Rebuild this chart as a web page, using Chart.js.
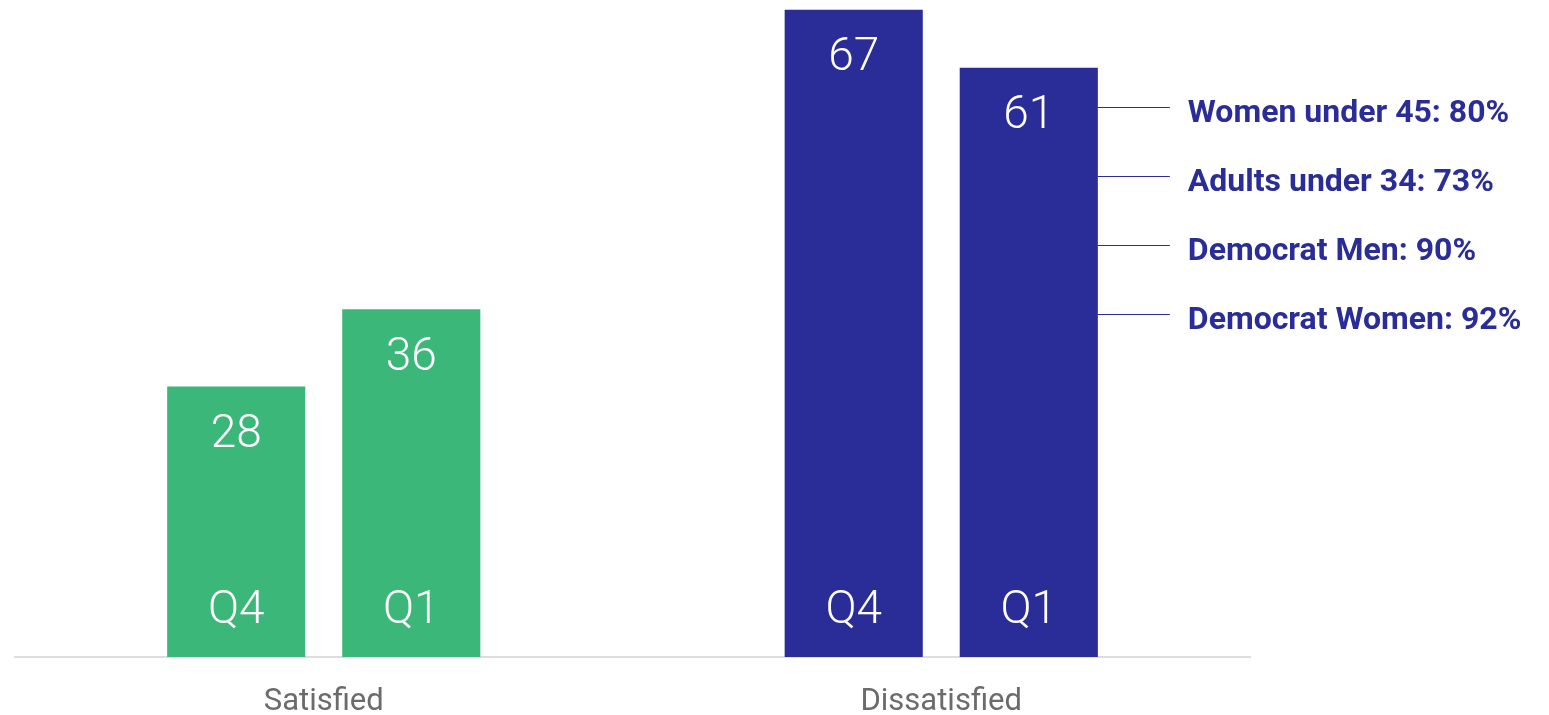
<!DOCTYPE html>
<html>
<head>
<meta charset="utf-8">
<script src="https://cdn.jsdelivr.net/npm/chart.js@4.4.1/dist/chart.umd.min.js"></script>
<style>
  html, body { margin: 0; padding: 0; background: #ffffff; }
  #wrap { width: 1549px; height: 715px; position: relative; }
</style>
</head>
<body>
<div id="wrap"><canvas id="c" width="1549" height="715"></canvas></div>
<script>
const categories = ['Satisfied', 'Dissatisfied'];
const seriesLabels = ['Q4', 'Q1'];
const q4Values = [28, 67];
const q1Values = [36, 61];
const categoryColors = ['#3BB77A', '#2A2D98'];
const yMax = 68;
const calloutTexts = [
  'Women under 45: 80%',
  'Adults under 34: 73%',
  'Democrat Men: 90%',
  'Democrat Women: 92%'
];

const FONT = 'Roboto, "Noto Sans", sans-serif';

const barLabelPlugin = {
  id: 'barLabels',
  afterDatasetsDraw(chart) {
    const ctx = chart.ctx;
    const area = chart.chartArea;
    ctx.save();
    ctx.fillStyle = '#ffffff';
    ctx.textAlign = 'center';
    ctx.textBaseline = 'middle';
    ctx.font = '300 46px ' + FONT;
    chart.data.datasets.forEach((ds, di) => {
      const meta = chart.getDatasetMeta(di);
      meta.data.forEach((bar, i) => {
        ctx.fillText(String(ds.data[i]), bar.x, bar.y + 49);
        ctx.fillText(ds.label, bar.x, area.bottom - 46);
      });
    });
    ctx.restore();
  }
};

const calloutPlugin = {
  id: 'callouts',
  afterDatasetsDraw(chart) {
    const ctx = chart.ctx;
    const meta = chart.getDatasetMeta(1);
    const bar = meta.data[1];
    const x0 = bar.x + bar.width / 2;
    ctx.save();
    ctx.strokeStyle = '#2A2D98';
    ctx.lineWidth = 1;
    ctx.fillStyle = '#2A2D98';
    ctx.font = 'bold 32px ' + FONT;
    ctx.textAlign = 'left';
    ctx.textBaseline = 'middle';
    calloutTexts.forEach((t, i) => {
      const y = Math.round(bar.y + 39 + i * 69) + 0.5;
      ctx.beginPath();
      ctx.moveTo(x0, y);
      ctx.lineTo(x0 + 72, y);
      ctx.stroke();
      ctx.fillText(t, x0 + 90, y + 6);
    });
    ctx.restore();
  }
};

new Chart(document.getElementById('c'), {
  type: 'bar',
  data: {
    labels: categories,
    datasets: [
      { label: seriesLabels[0], data: q4Values, backgroundColor: categoryColors },
      { label: seriesLabels[1], data: q1Values, backgroundColor: categoryColors }
    ]
  },
  options: {
    responsive: false,
    animation: false,
    devicePixelRatio: 1,
    categoryPercentage: 0.567,
    barPercentage: 0.789,
    layout: { padding: { left: 15, right: 299, top: 0, bottom: 0 } },
    plugins: { legend: { display: false }, tooltip: { enabled: false } },
    scales: {
      x: {
        afterFit(scale) { scale.height = 58; },
        grid: { display: false, drawTicks: false },
        border: { display: true, color: '#dddddd', width: 2 },
        ticks: { color: '#6b6b6b', font: { family: FONT, size: 31, weight: '400' }, padding: 27 }
      },
      y: { display: false, min: 0, max: yMax }
    }
  },
  plugins: [barLabelPlugin, calloutPlugin]
});
</script>
</body>
</html>
